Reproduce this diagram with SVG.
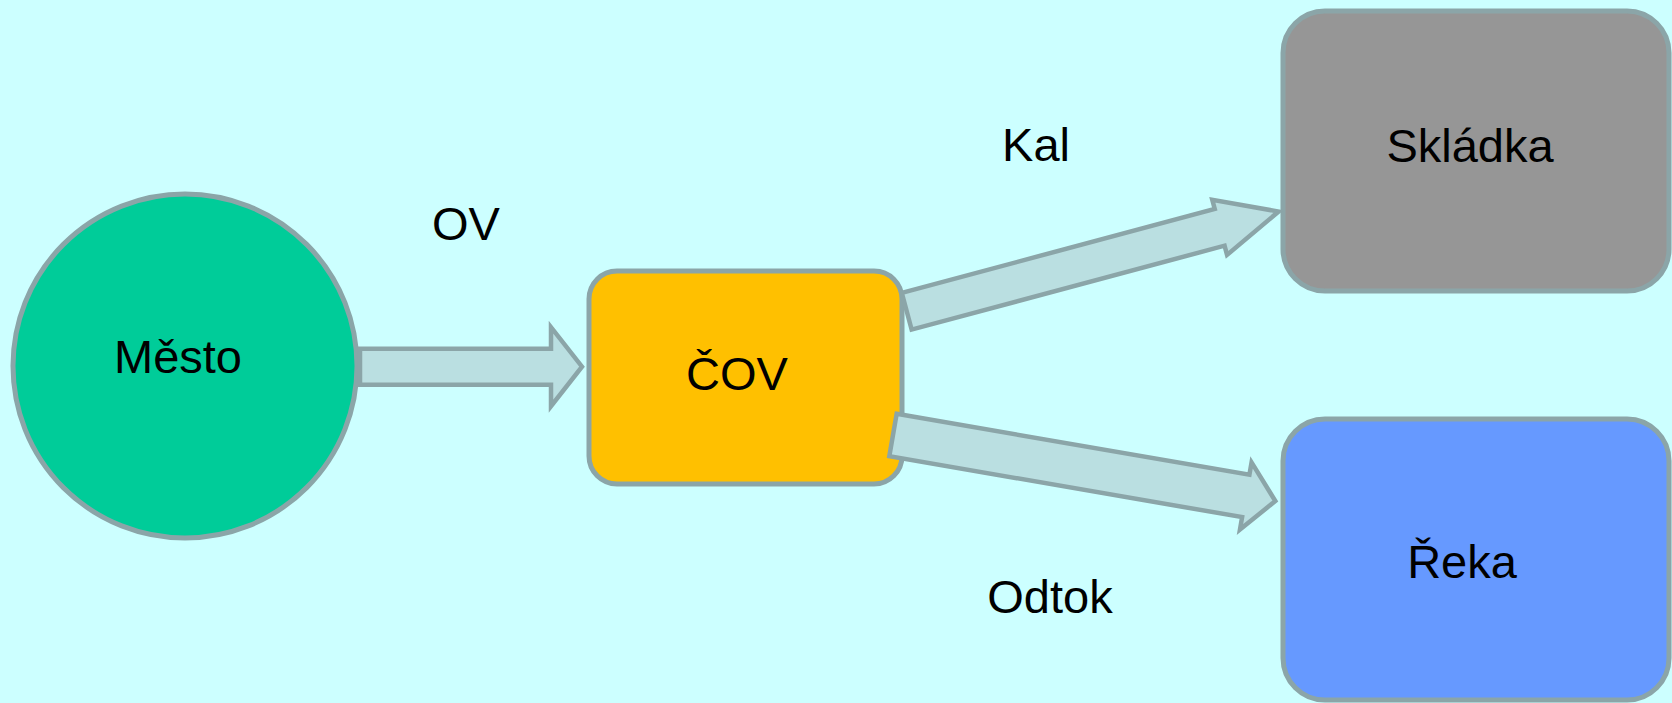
<svg xmlns="http://www.w3.org/2000/svg" width="1672" height="703" viewBox="0 0 1672 703">
  <style>
    .node { stroke: #8ba5a8; stroke-width: 5; }
    .flow { fill: #badfe1; stroke: #8ba5a8; stroke-width: 4.5; stroke-linejoin: miter; }
    .label { font-family: "Liberation Sans", Arial, sans-serif; font-size: 47px; fill: #000; text-anchor: middle; }
  </style>

  <!-- background -->
  <rect x="0" y="0" width="1672" height="703" fill="#ccffff"/>

  <!-- nodes -->
  <g id="mesto">
    <circle class="node" cx="185" cy="366" r="172" fill="#00cc99"/>
    <text class="label" x="178" y="373">Město</text>
  </g>

  <g id="cov">
    <rect class="node" x="589" y="271" width="313" height="213" rx="28" ry="28" fill="#ffc000"/>
    <text class="label" x="737" y="390">ČOV</text>
  </g>

  <g id="skladka">
    <rect class="node" x="1283" y="11" width="386" height="280" rx="42" ry="42" fill="#969696"/>
    <text class="label" x="1470" y="162">Skládka</text>
  </g>

  <g id="reka">
    <rect class="node" x="1283" y="419" width="386" height="281" rx="42" ry="42" fill="#6699ff"/>
    <text class="label" x="1462" y="578">Řeka</text>
  </g>

  <!-- block-arrow connectors -->
  <g id="connectors">
    <polygon class="flow" transform="translate(360,366.7)"
             points="0,-18 191,-18 191,-39.5 222,0 191,39.5 191,18 0,18"/>
    <polygon class="flow" transform="translate(906.7,311.2) rotate(-15)"
             points="0,-19 324,-19 324,-28.5 385,0 324,28.5 324,19 0,19"/>
    <polygon class="flow" transform="translate(893,435) rotate(9.8)"
             points="0,-21.5 358,-21.5 358,-34 388,0 358,34 358,21.5 0,21.5"/>
  </g>

  <!-- flow labels -->
  <g id="labels">
    <text class="label" x="466" y="240">OV</text>
    <text class="label" x="1036" y="161">Kal</text>
    <text class="label" x="1050" y="613">Odtok</text>
  </g>
</svg>
